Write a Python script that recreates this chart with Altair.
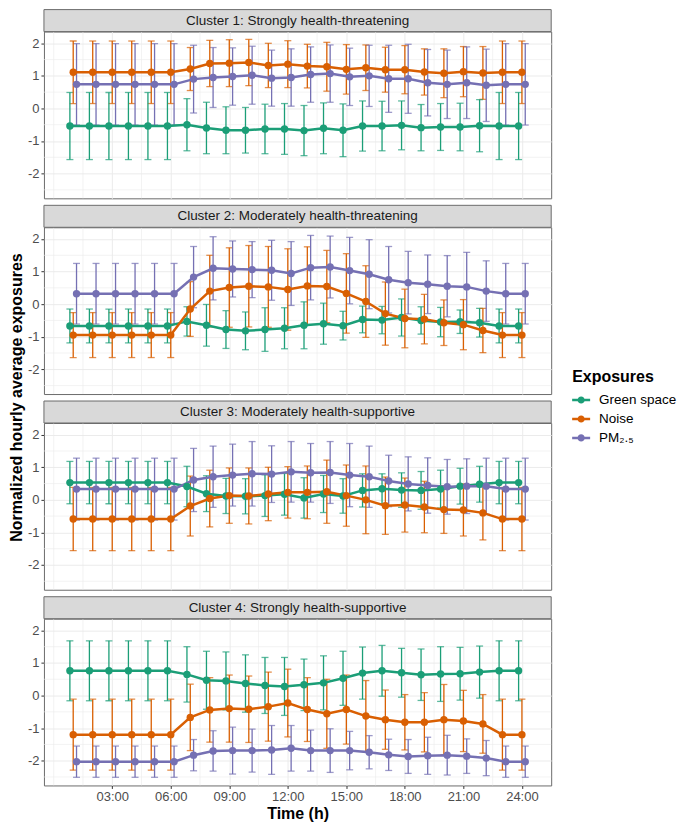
import altair as alt
import pandas as pd

# ---------------- data ----------------
clusters = [
    "Cluster 1: Strongly health-threatening",
    "Cluster 2: Moderately health-threatening",
    "Cluster 3: Moderately health-supportive",
    "Cluster 4: Strongly health-supportive",
]
series = ["Green space", "Noise", "PM₂.₅"]
series_colors = ["#1B9E77", "#D95F02", "#7570B3"]
hours = list(range(1, 25))
tick_hours = [3, 6, 9, 12, 15, 18, 21, 24]
tick_labels = ["03:00", "06:00", "09:00", "12:00", "15:00", "18:00", "21:00", "24:00"]
y_ticks = [-2, -1, 0, 1, 2]
x_minor = [0, 1.5, 4.5, 7.5, 10.5, 13.5, 16.5, 19.5, 22.5]
y_minor = [-2.5, -1.5, -0.5, 0.5, 1.5]

# Cluster 1
c1_green_mean = [-0.54, -0.54, -0.54, -0.54, -0.54, -0.54, -0.50, -0.60, -0.67, -0.67, -0.63, -0.63,
                 -0.68, -0.61, -0.67, -0.54, -0.54, -0.52, -0.59, -0.57, -0.57, -0.53, -0.54, -0.54]
c1_green_sd = [1.03, 1.03, 1.03, 1.03, 1.03, 1.03, 0.80, 0.79, 0.72, 0.70, 0.76, 0.78,
               0.77, 0.78, 0.81, 0.77, 0.76, 0.75, 0.71, 0.72, 0.73, 0.80, 1.03, 1.03]
c1_noise_mean = [1.11, 1.11, 1.11, 1.11, 1.11, 1.11, 1.21, 1.38, 1.39, 1.41, 1.32, 1.36,
                 1.30, 1.28, 1.20, 1.25, 1.19, 1.19, 1.12, 1.08, 1.13, 1.09, 1.11, 1.11]
c1_noise_sd = [0.96, 0.96, 0.96, 0.96, 0.96, 0.96, 0.66, 0.71, 0.72, 0.71, 0.68, 0.72,
               0.67, 0.75, 0.76, 0.70, 0.69, 0.74, 0.71, 0.75, 0.77, 0.81, 0.96, 0.96]
c1_pm_mean = [0.74, 0.74, 0.74, 0.74, 0.74, 0.74, 0.90, 0.95, 0.98, 1.02, 0.93, 0.95,
              1.04, 1.07, 0.97, 1.00, 0.91, 0.91, 0.79, 0.74, 0.79, 0.71, 0.74, 0.74]
c1_pm_sd = [1.25, 1.25, 1.25, 1.25, 1.25, 1.25, 1.04, 0.92, 0.88, 0.89, 0.86, 0.88,
            0.85, 0.88, 0.88, 0.94, 1.03, 1.06, 1.02, 1.05, 1.10, 1.11, 1.25, 1.25]

# Cluster 2
c2_green_mean = [-0.67, -0.67, -0.67, -0.67, -0.67, -0.67, -0.53, -0.65, -0.78, -0.82, -0.78, -0.74,
                 -0.65, -0.60, -0.66, -0.47, -0.49, -0.41, -0.50, -0.55, -0.54, -0.57, -0.67, -0.67]
c2_green_sd = [0.52, 0.52, 0.52, 0.52, 0.52, 0.52, 0.45, 0.64, 0.58, 0.58, 0.67, 0.63,
               0.72, 0.63, 0.44, 0.41, 0.42, 0.57, 0.42, 0.45, 0.36, 0.44, 0.52, 0.52]
c2_noise_mean = [-0.95, -0.95, -0.95, -0.95, -0.95, -0.95, -0.15, 0.40, 0.51, 0.55, 0.53, 0.45,
                 0.56, 0.54, 0.33, 0.08, -0.29, -0.44, -0.46, -0.57, -0.63, -0.81, -0.95, -0.95]
c2_noise_sd = [0.69, 0.69, 0.69, 0.69, 0.69, 0.69, 0.84, 1.10, 1.22, 1.25, 1.24, 1.25,
               1.20, 1.11, 1.22, 1.10, 0.97, 0.90, 0.76, 0.70, 0.77, 0.68, 0.69, 0.69]
c2_pm_mean = [0.32, 0.32, 0.32, 0.32, 0.32, 0.32, 0.83, 1.10, 1.08, 1.06, 1.04, 0.94,
              1.12, 1.14, 1.03, 0.92, 0.75, 0.66, 0.61, 0.55, 0.53, 0.40, 0.32, 0.32]
c2_pm_sd = [0.93, 0.93, 0.93, 0.93, 0.93, 0.93, 0.94, 0.97, 0.86, 0.86, 0.92, 0.98,
            0.99, 0.95, 1.02, 1.06, 1.02, 0.96, 0.90, 0.94, 1.06, 0.93, 0.93, 0.93]

# Cluster 3
c3_green_mean = [0.53, 0.53, 0.53, 0.53, 0.53, 0.53, 0.41, 0.19, 0.12, 0.11, 0.13, 0.17,
                 0.06, 0.18, 0.12, 0.29, 0.34, 0.30, 0.29, 0.33, 0.42, 0.48, 0.53, 0.53]
c3_green_sd = [0.65, 0.65, 0.65, 0.65, 0.65, 0.65, 0.62, 0.55, 0.54, 0.54, 0.64, 0.64,
               0.62, 0.57, 0.53, 0.51, 0.46, 0.53, 0.58, 0.58, 0.55, 0.55, 0.65, 0.65]
c3_noise_mean = [-0.59, -0.59, -0.59, -0.59, -0.59, -0.59, -0.19, 0.04, 0.13, 0.12, 0.18, 0.23,
                 0.23, 0.25, 0.13, 0.00, -0.18, -0.16, -0.22, -0.30, -0.31, -0.40, -0.59, -0.59]
c3_noise_sd = [0.97, 0.97, 0.97, 0.97, 0.97, 0.97, 0.92, 0.87, 0.85, 0.86, 0.82, 0.79,
               0.81, 0.97, 0.94, 1.04, 0.88, 0.83, 0.79, 0.73, 0.80, 0.83, 0.97, 0.97]
c3_pm_mean = [0.33, 0.33, 0.33, 0.33, 0.33, 0.33, 0.61, 0.71, 0.76, 0.80, 0.79, 0.86,
              0.83, 0.84, 0.76, 0.71, 0.58, 0.49, 0.44, 0.40, 0.42, 0.42, 0.33, 0.33]
c3_pm_sd = [0.95, 0.95, 0.95, 0.95, 0.95, 0.95, 0.97, 0.94, 0.95, 0.99, 0.87, 0.93,
            0.90, 0.95, 0.97, 0.94, 0.79, 0.83, 0.85, 0.84, 0.84, 0.86, 0.95, 0.95]

# Cluster 4
c4_green_mean = [0.76, 0.76, 0.76, 0.76, 0.76, 0.76, 0.65, 0.47, 0.45, 0.37, 0.31, 0.28,
                 0.33, 0.39, 0.53, 0.69, 0.76, 0.70, 0.64, 0.66, 0.67, 0.72, 0.76, 0.76]
c4_green_sd = [0.92, 0.92, 0.92, 0.92, 0.92, 0.92, 0.85, 0.89, 0.89, 0.88, 0.86, 0.89,
               0.79, 0.83, 0.83, 0.80, 0.78, 0.75, 0.79, 0.84, 0.81, 0.80, 0.92, 0.92]
c4_noise_mean = [-1.20, -1.20, -1.20, -1.20, -1.20, -1.20, -0.67, -0.44, -0.40, -0.42, -0.34, -0.23,
                 -0.43, -0.56, -0.43, -0.63, -0.74, -0.82, -0.82, -0.74, -0.78, -0.87, -1.20, -1.20]
c4_noise_sd = [1.09, 1.09, 1.09, 1.09, 1.09, 1.09, 1.02, 0.99, 1.03, 1.02, 1.06, 1.04,
               0.98, 1.06, 1.06, 1.09, 0.91, 0.85, 0.91, 1.08, 0.94, 0.90, 1.09, 1.09]
c4_pm_mean = [-2.03, -2.03, -2.03, -2.03, -2.03, -2.03, -1.83, -1.70, -1.69, -1.69, -1.67, -1.62,
              -1.69, -1.69, -1.69, -1.74, -1.82, -1.87, -1.85, -1.83, -1.86, -1.92, -2.03, -2.03]
c4_pm_sd = [0.48, 0.48, 0.48, 0.48, 0.48, 0.48, 0.48, 0.62, 0.72, 0.66, 0.75, 0.70,
            0.63, 0.67, 0.59, 0.51, 0.48, 0.52, 0.57, 0.61, 0.53, 0.54, 0.48, 0.48]

means = [
    [c1_green_mean, c1_noise_mean, c1_pm_mean],
    [c2_green_mean, c2_noise_mean, c2_pm_mean],
    [c3_green_mean, c3_noise_mean, c3_pm_mean],
    [c4_green_mean, c4_noise_mean, c4_pm_mean],
]
sds = [
    [c1_green_sd, c1_noise_sd, c1_pm_sd],
    [c2_green_sd, c2_noise_sd, c2_pm_sd],
    [c3_green_sd, c3_noise_sd, c3_pm_sd],
    [c4_green_sd, c4_noise_sd, c4_pm_sd],
]

# ---------------- layout / style ----------------
W, H = 508, 167
STRIP = 22
GAP = 7
dodge = {"Green space": -0.17, "Noise": 0.0, "PM₂.₅": 0.17}
FONT = "Liberation Sans"
GRID = "#ebebeb"
BORDER = "#6b6b6b"

rows = []
for ci, cl in enumerate(clusters):
    for si, s in enumerate(series):
        for h, m, sd in zip(hours, means[ci][si], sds[ci][si]):
            rows.append(dict(cluster=cl, series=s, hour=h, xpos=h + dodge[s],
                             mean=m, lo=m - sd, hi=m + sd))
df = pd.DataFrame(rows)

x_scale = alt.Scale(domain=[-0.5, 25.5], nice=False, zero=False)
y_scale = alt.Scale(domain=[-2.76, 2.36], nice=False, zero=False)
color_scale = alt.Scale(domain=series, range=series_colors)

label_expr = "[" + ",".join("'" + t + "'" for t in tick_labels) + "][round(datum.value/3)-1]"
legend_path = ("M-1,-0.13L1,-0.13L1,0.13L-1,0.13Z "
               "M-0.4,0A0.4,0.4 0 1,1 0.4,0A0.4,0.4 0 1,1 -0.4,0Z")

period = H + STRIP + GAP
ytitle_center = (-STRIP + 3 * period + H) / 2

legend = alt.Legend(title="Exposures", orient="none", legendX=W + 21, legendY=338,
                    symbolType=legend_path, symbolSize=324, symbolStrokeWidth=0,
                    symbolOpacity=1,
                    titleFontSize=16, titleFontWeight="bold", titleColor="#000000",
                    labelFontSize=13.5, labelColor="#000000", labelOffset=9,
                    rowPadding=3, titlePadding=6, labelFont=FONT, titleFont=FONT)


def panel(ci, last):
    d = df[df["cluster"] == clusters[ci]]
    if last:
        xaxis = alt.Axis(values=tick_hours, labelExpr=label_expr, title="Time (h)",
                         grid=True, gridColor=GRID, domain=False, tickColor="#333333",
                         tickSize=3, labelPadding=2, labelFontSize=13, labelColor="#4d4d4d",
                         titleFontSize=16, titleFontWeight="bold", titleColor="#000000",
                         titlePadding=2, labelFont=FONT, titleFont=FONT)
    else:
        xaxis = alt.Axis(values=tick_hours, labels=False, ticks=False, title=None,
                         grid=True, gridColor=GRID, domain=False)
    yaxis = alt.Axis(values=y_ticks, labelExpr="toString(datum.value)", title=None,
                     grid=True, gridColor=GRID, domain=False, tickColor="#333333",
                     tickSize=3, labelPadding=2, labelFontSize=13, labelColor="#4d4d4d",
                     labelFont=FONT)

    def X(f):
        return alt.X(f, type="quantitative", scale=x_scale, axis=xaxis)

    def Y(f):
        return alt.Y(f, type="quantitative", scale=y_scale, axis=yaxis)

    col = alt.Color("series:N", scale=color_scale, legend=legend)

    vgrid = alt.Chart(pd.DataFrame({"v": x_minor})).mark_rule(
        color=GRID, strokeWidth=0.6).encode(x=X("v"))
    hgrid = alt.Chart(pd.DataFrame({"v": y_minor})).mark_rule(
        color=GRID, strokeWidth=0.6).encode(y=Y("v"))

    base = alt.Chart(d)
    err = base.mark_errorbar(thickness=1.3, ticks={"size": 7, "thickness": 1.3}).encode(
        x=X("xpos"), y=Y("lo"), y2=alt.Y2("hi"), color=col)
    line = base.mark_line(strokeWidth=2.5).encode(
        x=X("xpos"), y=Y("mean"), color=col)
    pts = base.mark_point(filled=True, size=55, opacity=1).encode(
        x=X("xpos"), y=Y("mean"), color=col)

    lab = alt.Chart(pd.DataFrame({"label": [clusters[ci]]}))
    strip = lab.mark_rect(fill="#d9d9d9", stroke=BORDER, strokeWidth=1).encode(
        x=alt.value(0), x2=alt.value(W), y=alt.value(-STRIP), y2=alt.value(0))
    strip_text = lab.mark_text(fontSize=13.5, color="#1a1a1a", font=FONT, baseline="middle").encode(
        x=alt.value(W / 2), y=alt.value(-STRIP / 2), text="label:N")

    layers = [vgrid, hgrid, err, line, pts, strip, strip_text]
    if ci == 0:
        ytitle = alt.Chart(pd.DataFrame({"t": ["Normalized hourly average exposures"]})).mark_text(
            angle=270, fontSize=16, fontWeight="bold", color="#000000", font=FONT,
            baseline="middle", align="center").encode(
            x=alt.value(-27), y=alt.value(ytitle_center), text="t:N")
        layers.append(ytitle)
    return alt.layer(*layers).properties(width=W, height=H)


panels = [panel(i, i == len(clusters) - 1) for i in range(len(clusters))]

chart = alt.vconcat(*panels, spacing=GAP + STRIP, bounds="flush").properties(
    padding={"left": 0, "top": 0, "right": 0, "bottom": 0}
).resolve_scale(color="shared").resolve_legend(color="shared").configure(
    font=FONT).configure_view(stroke=BORDER, strokeWidth=1)

chart.save("out.html", embed_options={"renderer": "svg", "actions": False})
